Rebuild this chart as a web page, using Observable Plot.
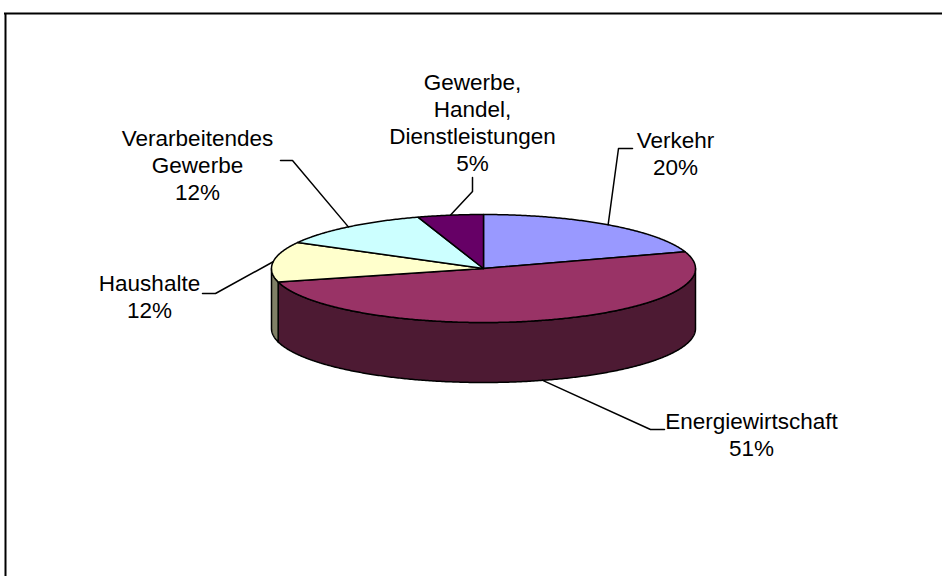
<!DOCTYPE html>
<html><head><meta charset="utf-8">
<script src="https://cdn.jsdelivr.net/npm/d3@7"></script>
<script src="https://cdn.jsdelivr.net/npm/@observablehq/plot@0.6"></script>
<style>
html,body{margin:0;padding:0;background:#fff;overflow:hidden;width:942px;height:576px;}
#chart{position:absolute;left:0;top:0;width:942px;height:576px;overflow:hidden;}
#chart svg{display:block;}
</style></head><body>
<div id="chart"></div>
<script>
// ---- data ----
const categories = ["Verkehr", "Energiewirtschaft", "Haushalte", "Verarbeitendes Gewerbe", "Gewerbe, Handel, Dienstleistungen"];
const shares = [20, 51, 12, 12, 5];
const labelLines = [["Verkehr"], ["Energiewirtschaft"], ["Haushalte"], ["Verarbeitendes", "Gewerbe"], ["Gewerbe,", "Handel,", "Dienstleistungen"]];
const topColors = ["#9999FF", "#993366", "#FFFFCC", "#CCFFFF", "#660066"];

// ---- layout ----
const W = 942, H = 576;
const border = {left: 5, top: 13};
const pie = {cx: 483, cy: 268, rx: 212, ry: 54, depth: 60};
const fontSize = 22.5, lineH = 27;
const labelLayout = [
  {x: 675, y: 147, elbow: [[632, 148], [618, 148]]},
  {x: 751, y: 428, elbow: [[664, 429], [650, 429]]},
  {x: 149, y: 290, elbow: [[202, 293], [215, 293]]},
  {x: 197, y: 145, elbow: [[280, 160], [292, 160]]},
  {x: 472, y: 89,  elbow: [[472, 177], [472, 191]]}
];

function shade(c, k) {
  const r = d3.rgb(c);
  return d3.rgb(r.r * k, r.g * k, r.b * k).formatHex();
}
function pt(a, dz = 0) {
  return {x: pie.cx + pie.rx * Math.sin(a), y: pie.cy - pie.ry * Math.cos(a) + dz};
}
function arcPts(a0, a1, dz = 0) {
  const n = Math.max(2, Math.ceil(Math.abs(a1 - a0) / (Math.PI / 360)));
  return d3.range(n + 1).map(i => pt(a0 + (a1 - a0) * i / n, dz));
}

const total = d3.sum(shares);
const arcs = d3.pie().sort(null).value(d => d)(shares);

const marks = [];
// chart-area border (top and left edges visible)
marks.push(Plot.ruleY([border.top], {x1: border.left - 1, x2: W + 20, stroke: "#000", strokeWidth: 2}));
marks.push(Plot.ruleX([border.left], {y1: border.top, y2: H + 20, stroke: "#000", strokeWidth: 2}));
// side walls (front half only)
arcs.forEach((a, i) => {
  const s0 = Math.max(a.startAngle, Math.PI / 2), s1 = Math.min(a.endAngle, 3 * Math.PI / 2);
  if (s0 < s1) {
    const poly = [...arcPts(s0, s1, 0), ...arcPts(s1, s0, pie.depth)];
    poly.push(poly[0]);
    marks.push(Plot.line(poly, {x: "x", y: "y", fill: shade(topColors[i], 0.5), stroke: "#000", strokeWidth: 1.5, strokeLinejoin: "round"}));
  }
});
// top faces
arcs.forEach((a, i) => {
  const c = {x: pie.cx, y: pie.cy};
  const poly = [c, ...arcPts(a.startAngle, a.endAngle, 0), c];
  marks.push(Plot.line(poly, {x: "x", y: "y", fill: topColors[i], stroke: "#000", strokeWidth: 1.5, strokeLinejoin: "round"}));
});
// leader lines
const leaderRows = [];
arcs.forEach((a, i) => {
  const mid = (a.startAngle + a.endAngle) / 2;
  const anchor = pt(mid, Math.cos(mid) < 0 ? pie.depth : 0);
  const L = labelLayout[i];
  leaderRows.push({k: i, x: L.elbow[0][0], y: L.elbow[0][1]});
  leaderRows.push({k: i, x: L.elbow[1][0], y: L.elbow[1][1]});
  leaderRows.push({k: i, x: anchor.x, y: anchor.y});
});
marks.push(Plot.line(leaderRows, {x: "x", y: "y", z: "k", stroke: "#000", strokeWidth: 1.5}));
// labels
const textRows = [];
arcs.forEach((a, i) => {
  const lines = [...labelLines[i], Math.round(shares[i] / total * 100) + "%"];
  lines.forEach((t, j) => textRows.push({t, x: labelLayout[i].x, y: labelLayout[i].y + j * lineH - 0.32 * fontSize}));
});
marks.push(Plot.text(textRows, {x: "x", y: "y", text: "t", fill: "#000", fontSize, textAnchor: "middle"}));

const chart = Plot.plot({
  width: W, height: H, margin: 0,
  x: {domain: [0, W], range: [0, W], axis: null},
  y: {domain: [0, H], range: [0, H], axis: null},
  style: {fontFamily: "'Liberation Sans', Arial, sans-serif", background: "#fff", overflow: "hidden"},
  marks
});
document.getElementById("chart").appendChild(chart);
</script>
</body></html>
